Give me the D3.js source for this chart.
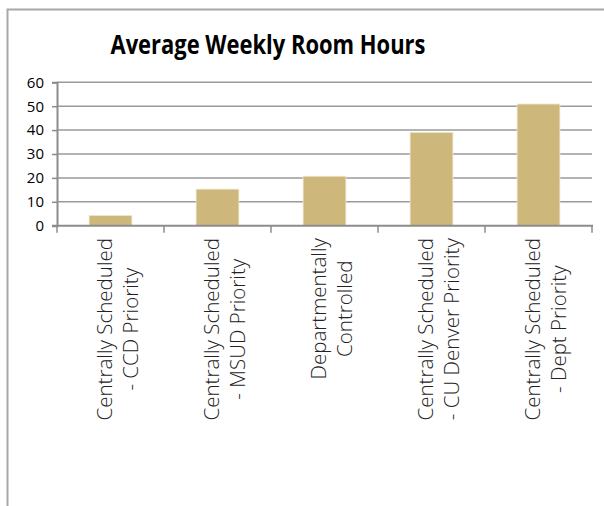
<!DOCTYPE html>
<html>
<head>
<meta charset="utf-8">
<script src="https://cdn.jsdelivr.net/npm/d3@7"></script>
<style>
  body { margin: 0; background: #fff; }
</style>
</head>
<body>
<div id="chart"></div>
<script>
// chart data
var categories = [
  ["Centrally Scheduled", "- CCD Priority"],
  ["Centrally Scheduled", "- MSUD Priority"],
  ["Departmentally", "Controlled"],
  ["Centrally Scheduled", "- CU Denver Priority"],
  ["Centrally Scheduled", "- Dept Priority"]
];
var hours = [4.3, 15.3, 20.7, 39.0, 50.9];
var yTicks = [0, 10, 20, 30, 40, 50, 60];
var title = "Average Weekly Room Hours";

var w = 604, h = 506;
var plotLeft = 57, plotRight = 592, plotTop = 82.3, plotBottom = 225.7;

var svg = d3.select("body div#chart").append("svg")
    .attr("width", w)
    .attr("height", h);

// outer frame
svg.append("rect")
  .attr("x", 7.5).attr("y", 9.5)
  .attr("width", 620).attr("height", 520)
  .attr("fill", "none")
  .attr("stroke", "#a8a8a8")
  .attr("stroke-width", 2);

svg.append("text")
  .attr("x", 268).attr("y", 54)
  .attr("text-anchor", "middle")
  .attr("font-family", "'Open Sans', sans-serif")
  .attr("font-weight", "bold")
  .attr("font-size", 27)
  .attr("textLength", 315)
  .attr("lengthAdjust", "spacingAndGlyphs")
  .attr("fill", "#000")
  .text(title);

var x = d3.scaleBand()
  .domain(d3.range(categories.length))
  .range([plotLeft, plotRight])
  .paddingInner(0.6)
  .paddingOuter(0.3);

var y = d3.scaleLinear().domain([0, 60]).range([plotBottom, plotTop]);

// gridlines
svg.append("g").selectAll("line")
  .data(yTicks.filter(function(d) { return d > 0; }))
  .enter().append("line")
  .attr("x1", plotLeft).attr("x2", plotRight)
  .attr("y1", function(d) { return y(d); })
  .attr("y2", function(d) { return y(d); })
  .attr("stroke", "#9a9a9a")
  .attr("stroke-width", 1.5);

// bars
svg.append("g").selectAll("rect")
  .data(hours)
  .enter().append("rect")
  .attr("x", function(d, i) { return x(i); })
  .attr("y", function(d) { return y(d); })
  .attr("width", x.bandwidth())
  .attr("height", function(d) { return y(0) - y(d); })
  .attr("fill", "#cdb77a")
  .attr("stroke", "#efe6cc")
  .attr("stroke-width", 0.8);

// y axis
var yAxis = d3.axisLeft(y).tickValues(yTicks).tickSize(5).tickPadding(8);
var gy = svg.append("g").attr("transform", "translate(" + plotLeft + ",0)").call(yAxis);
gy.select(".domain").attr("stroke", "#8c8c8c").attr("stroke-width", 2);
gy.selectAll(".tick line").attr("stroke", "#8c8c8c").attr("stroke-width", 1.5);
gy.selectAll(".tick text")
  .attr("font-family", "'Open Sans', sans-serif")
  .attr("font-size", 15)
  .attr("fill", "#000");

// x axis
var xEdges = d3.range(categories.length + 1).map(function(i) { return plotLeft + i * x.step(); });
svg.append("line")
  .attr("x1", plotLeft - 5).attr("x2", plotRight + 1)
  .attr("y1", plotBottom).attr("y2", plotBottom)
  .attr("stroke", "#8c8c8c").attr("stroke-width", 2);
svg.append("g").selectAll("line")
  .data(xEdges)
  .enter().append("line")
  .attr("x1", function(d) { return d; }).attr("x2", function(d) { return d; })
  .attr("y1", plotBottom).attr("y2", plotBottom + 7)
  .attr("stroke", "#8c8c8c").attr("stroke-width", 1.5);

// rotated category labels
var labelTop = 238;
var lg = svg.append("g").selectAll("g")
  .data(categories)
  .enter().append("g");

lg.each(function(lines, i) {
  var g = d3.select(this);
  var cx = x(i) + x.bandwidth() / 2;
  var texts = lines.map(function(line, j) {
    return g.append("text")
      .attr("font-family", "'Open Sans', sans-serif")
      .attr("font-weight", 300)
      .attr("font-size", 20.5)
      .attr("fill", "#222")
      .attr("text-anchor", "middle")
      .text(line);
  });
  var maxLen = d3.max(texts, function(t) { return t.node().getComputedTextLength(); });
  var cy = labelTop + maxLen / 2;
  texts.forEach(function(t, j) {
    var bx = cx + 1 + j * 26;
    t.attr("transform", "translate(" + bx + "," + cy + ") rotate(-90)");
  });
});
</script>
</body>
</html>
